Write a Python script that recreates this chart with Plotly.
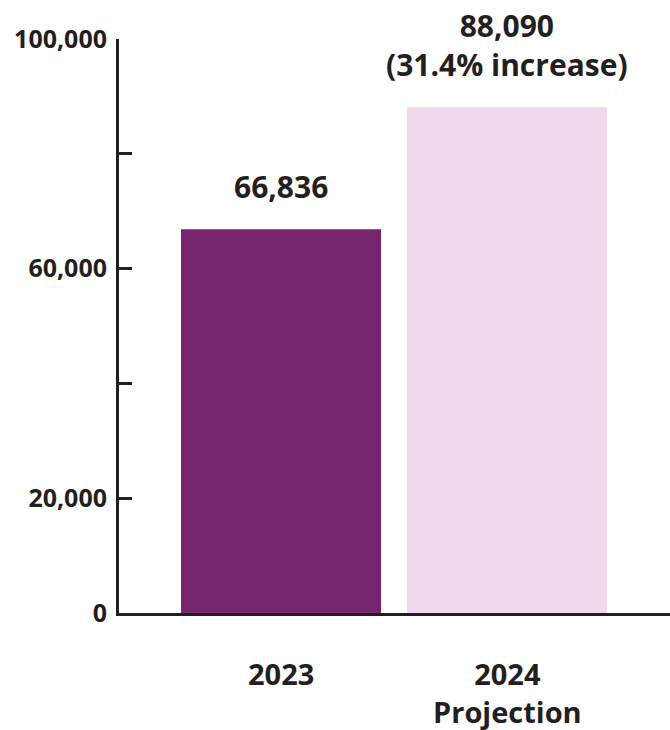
import plotly.graph_objects as go

categories = ["2023", "2024<br>Projection"]
values = [66836, 88090]
value_labels = ["66,836", "88,090<br>(31.4% increase)"]
y_tickvals = [0, 20000, 40000, 60000, 80000, 100000]
y_ticktext = ["0", "20,000", "", "60,000", "", "100,000"]
bar_colors = ["#76256F", "#EFD9EA"]

FONT = "Open Sans"
TXT = "#231F20"
xs = list(range(len(categories)))

fig = go.Figure(go.Bar(x=xs, y=values, width=0.885, marker=dict(color=bar_colors, line=dict(width=0)),
                       hoverinfo="skip"))

for x, v, t in zip(xs, values, value_labels):
    fig.add_annotation(x=x, y=v, xref="x", yref="y", text=t, showarrow=False,
                       yanchor="bottom", yshift=20, font=dict(family=FONT, size=30, color=TXT, weight="bold"))
for x, c in zip(xs, categories):
    fig.add_annotation(x=x, y=0, xref="x", yref="y", text=c, showarrow=False,
                       yanchor="top", yshift=-39, font=dict(family=FONT, size=29, color=TXT, weight="bold"))

fig.update_layout(
    width=670, height=730,
    margin=dict(l=119, r=0, t=39, b=117, pad=0),
    plot_bgcolor="white", paper_bgcolor="white",
    showlegend=False,
    xaxis=dict(range=[-0.717, 1.721], showticklabels=False, ticks="", showgrid=False, zeroline=False,
               showline=True, linecolor=TXT, linewidth=3),
    yaxis=dict(range=[0, 100000], tickvals=y_tickvals, ticktext=y_ticktext, ticks="inside", ticklen=13,
               tickwidth=3, tickcolor=TXT, showgrid=False, zeroline=False, showline=True, linecolor=TXT,
               linewidth=3, ticklabelstandoff=4,
               tickfont=dict(family=FONT, size=25, color=TXT, weight="bold")),
)

fig.write_html("out.html", config={"displayModeBar": False},
               post_script="document.body.style.margin='0';document.body.style.overflow='hidden';")
